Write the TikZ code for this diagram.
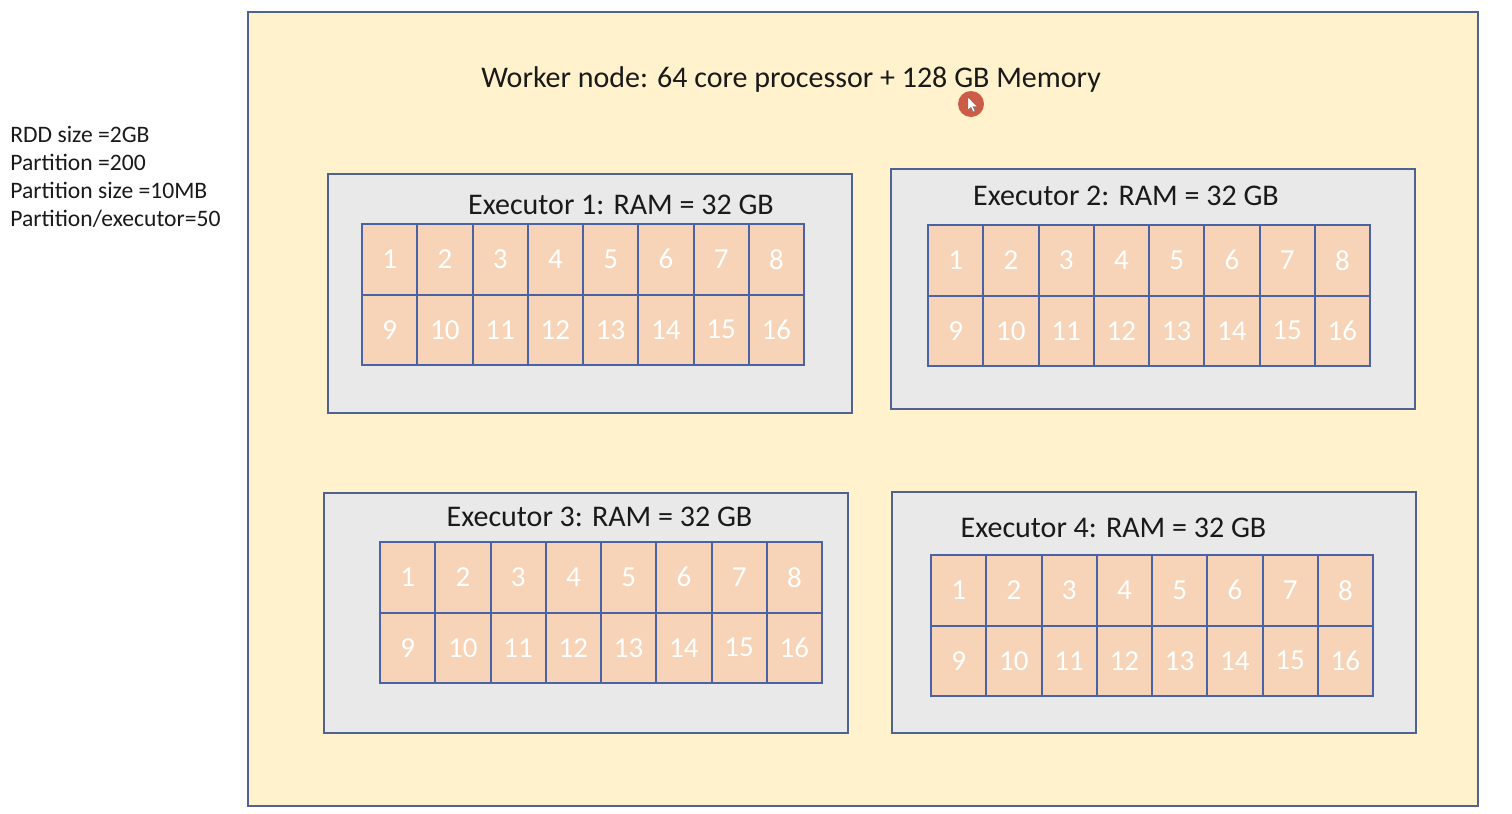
\documentclass[tikz,border=0pt]{standalone}
\usepackage{fontspec}
\setmainfont{Carlito}
\definecolor{workerfill}{HTML}{FFF2CC}
\definecolor{boxline}{HTML}{50638F}
\definecolor{execfill}{HTML}{E9E9E9}
\definecolor{cellfill}{HTML}{F7D4B7}
\definecolor{cellline}{HTML}{4A63A6}
\definecolor{cursorred}{HTML}{CC5C47}
\definecolor{textcol}{HTML}{1A1A1A}
\newcommand\execgrid[3]{% #1 name, #2 left x (px), #3 top y (px)
  \foreach \i in {1,...,8}{%
    \pgfmathtruncatemacro\j{\i+8}%
    \node[cell] (#1-\i) at ({#2+(\i-0.5)*55.25},{#3+35.25}) {\i};
    \node[cell] (#1-\j) at ({#2+(\i-0.5)*55.25},{#3+105.75}) {\j};
  }}
\begin{document}
\begin{tikzpicture}[x=0.5pt,y=-0.5pt,
  cell/.style={draw=cellline, line width=1pt, fill=cellfill, minimum width=27.625pt,
    minimum height=35.25pt, inner sep=0pt, text=white, font=\fontsize{14.5}{14.5}\selectfont},
  execbox/.style={draw=boxline, line width=0.8pt, fill=execfill},
  title/.style={text=textcol, inner sep=0pt, font=\fontsize{15}{17}\selectfont},
  note/.style={text=textcol, inner sep=0pt, anchor=west, font=\fontsize{11.8}{13}\selectfont}]
\useasboundingbox (0,0) rectangle (1512,814);
\fill[white] (0,0) rectangle (1512,814);
% worker node
\draw[draw=boxline, line width=0.8pt, fill=workerfill] (248,12) rectangle (1478,806);
\node[title] (worker) at (791,79) {Worker node: 64 core processor + 128 GB Memory};
% notes
\node[note] (n1) at (10,134) {RDD size =2GB};
\node[note] (n2) at (10,162) {Partition =200};
\node[note] (n3) at (10,190) {Partition size =10MB};
\node[note] (n4) at (10,219) {Partition/executor=50};
% executors
\draw[execbox] (328,174) rectangle (852,413);
\node[title] (t1) at (621,205) {Executor 1: RAM = 32 GB};
\execgrid{e1}{362}{224}
\draw[execbox] (891,169) rectangle (1415,409);
\node[title] (t2) at (1126,196) {Executor 2: RAM = 32 GB};
\execgrid{e2}{928}{225}
\draw[execbox] (324,493) rectangle (848,733);
\node[title] (t3) at (599.5,517) {Executor 3: RAM = 32 GB};
\execgrid{e3}{380}{542}
\draw[execbox] (892,492) rectangle (1416,733);
\node[title] (t4) at (1113.5,528) {Executor 4: RAM = 32 GB};
\execgrid{e4}{931}{555}
% cursor
\fill[cursorred] (971,104) circle (6.5pt);
\fill[white, draw=black!60, line width=0.2pt] (968,97) -- (968,110) -- (971,107.5) -- (973,112) -- (975,111) -- (973,106.5) -- (977,106.5) -- cycle;
\end{tikzpicture}
\end{document}
